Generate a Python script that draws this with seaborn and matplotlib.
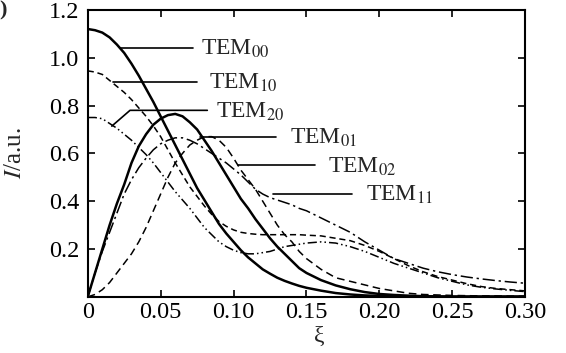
import numpy as np
import pandas as pd
import matplotlib
matplotlib.use("Agg")
import matplotlib.pyplot as plt
import seaborn as sns

sns.set_theme(style="ticks")
plt.rcParams['font.family'] = ['Liberation Serif', 'DejaVu Serif']
plt.rcParams['mathtext.fontset'] = 'stix'

# values
xi = [0, .005, .01, .015, .02, .025, .03, .035, .04, .045, .05, .055, .06, .065,
      .07, .075, .08, .085, .09, .095, .10, .105, .11, .115, .12, .125, .13, .135,
      .14, .145, .15, .16, .17, .18, .19, .20, .21, .22, .23, .24, .25, .26, .27,
      .28, .29, .30]

tem00 = [1.12, 1.115, 1.105, 1.085, 1.055, 1.02, 0.975, 0.925, 0.87, 0.815, 0.755,
         0.695, 0.635, 0.575, 0.515, 0.455, 0.405, 0.355, 0.305, 0.265, 0.23, 0.195,
         0.165, 0.14, 0.115, 0.097, 0.08, 0.067, 0.056, 0.046, 0.038, 0.026, 0.016,
         0.01, 0.006, 0.004, 0.003, 0.002, 0.002, 0.001, 0.001, 0.001, 0.001, 0.001,
         0.001, 0.001]

tem10 = [0.945, 0.94, 0.93, 0.905, 0.88, 0.855, 0.825, 0.79, 0.755, 0.715, 0.67,
         0.615, 0.56, 0.51, 0.46, 0.42, 0.38, 0.345, 0.315, 0.295, 0.28, 0.27,
         0.265, 0.262, 0.26, 0.26, 0.26, 0.26, 0.26, 0.26, 0.258, 0.255, 0.245,
         0.235, 0.215, 0.19, 0.16, 0.13, 0.105, 0.085, 0.07, 0.055, 0.043, 0.035,
         0.03, 0.025]

tem20 = [0.75, 0.75, 0.745, 0.725, 0.705, 0.68, 0.655, 0.625, 0.595, 0.56, 0.52,
         0.48, 0.44, 0.405, 0.37, 0.33, 0.29, 0.26, 0.23, 0.21, 0.195, 0.185, 0.18,
         0.18, 0.185, 0.19, 0.2, 0.21, 0.215, 0.22, 0.225, 0.23, 0.225, 0.21, 0.19,
         0.165, 0.14, 0.12, 0.1, 0.08, 0.065, 0.05, 0.04, 0.033, 0.027, 0.022]

tem01 = [0, 0.1, 0.2, 0.3, 0.39, 0.47, 0.56, 0.63, 0.68, 0.72, 0.745, 0.76, 0.765,
         0.755, 0.73, 0.7, 0.655, 0.61, 0.56, 0.51, 0.46, 0.41, 0.37, 0.325, 0.285,
         0.245, 0.21, 0.18, 0.15, 0.12, 0.1, 0.07, 0.048, 0.032, 0.02, 0.012, 0.008,
         0.005, 0.003, 0.002, 0.001, 0.001, 0.001, 0.001, 0.001, 0.001]

tem02 = [0, 0.01, 0.03, 0.06, 0.1, 0.14, 0.18, 0.23, 0.29, 0.36, 0.43, 0.5, 0.56,
         0.6, 0.635, 0.655, 0.67, 0.67, 0.655, 0.625, 0.58, 0.53, 0.49, 0.45, 0.4,
         0.35, 0.3, 0.26, 0.23, 0.19, 0.16, 0.115, 0.08, 0.065, 0.05, 0.035, 0.025,
         0.015, 0.01, 0.008, 0.006, 0.005, 0.004, 0.004, 0.003, 0.003]

tem11 = [0, 0.1, 0.19, 0.27, 0.35, 0.43, 0.49, 0.54, 0.58, 0.615, 0.64, 0.655,
         0.665, 0.665, 0.655, 0.64, 0.62, 0.6, 0.58, 0.56, 0.535, 0.51, 0.48, 0.45,
         0.43, 0.415, 0.405, 0.395, 0.385, 0.37, 0.36, 0.33, 0.3, 0.27, 0.23, 0.195,
         0.16, 0.14, 0.12, 0.105, 0.093, 0.083, 0.075, 0.068, 0.062, 0.057]

df = pd.DataFrame({'xi': xi, 'TEM00': tem00, 'TEM10': tem10, 'TEM20': tem20,
                   'TEM01': tem01, 'TEM02': tem02, 'TEM11': tem11})

styles = {
    'TEM00': dict(lw=1.8, ls='-'),
    'TEM01': dict(lw=1.8, ls='-'),
    'TEM10': dict(lw=1.1, ls=(0, (4, 2.5))),
    'TEM02': dict(lw=1.1, ls=(0, (5, 3))),
    'TEM20': dict(lw=1.1, ls=(0, (6, 2, 1, 2, 1, 2))),
    'TEM11': dict(lw=1.1, ls=(0, (8, 2.5, 1.5, 2.5))),
}

fig = plt.figure(figsize=(5.66, 3.53), dpi=100)
ax = fig.add_axes([0.155, 0.159, 0.773, 0.813])

for name, st in styles.items():
    sns.lineplot(data=df, x='xi', y=name, ax=ax, color='black',
                 linewidth=st['lw'], linestyle=st['ls'])

# leader lines and labels
leaders = [
    ('00', [0.022, 0.072], [1.04, 1.04], 0.078, 1.035),
    ('10', [0.017, 0.075], [0.90, 0.90], 0.083, 0.895),
    ('20', [0.0165, 0.029, 0.082], [0.714, 0.78, 0.78], 0.088, 0.775),
    ('01', [0.077, 0.129], [0.67, 0.67], 0.139, 0.665),
    ('02', [0.103, 0.156], [0.55, 0.55], 0.165, 0.545),
    ('11', [0.127, 0.181], [0.43, 0.43], 0.191, 0.425),
]
for sub, lx, ly, tx, ty in leaders:
    ax.plot(lx, ly, color='black', lw=1.2)
    ax.text(tx, ty, 'TEM$_{' + sub + '}$', fontsize=17, va='center', ha='left')

ax.set_xlim(0, 0.30)
ax.set_ylim(0, 1.2)
ax.set_xticks([0, 0.05, 0.10, 0.15, 0.20, 0.25, 0.30])
ax.set_xticklabels(['0', '0.05', '0.10', '0.15', '0.20', '0.25', '0.30'])
ax.set_yticks([0.2, 0.4, 0.6, 0.8, 1.0, 1.2])
ax.set_yticklabels(['0.2', '0.4', '0.6', '0.8', '1.0', '1.2'])
ax.tick_params(direction='in', top=True, right=True, length=5, width=1.2,
               labelsize=17.5, colors='black')
ax.tick_params(axis='x', pad=4)
ax.tick_params(axis='y', pad=6)
for s in ax.spines.values():
    s.set_linewidth(1.5)
    s.set_color('black')

ax.set_xlabel('ξ', fontsize=17)
ax.xaxis.set_label_coords(0.53, -0.1)
ax.set_ylabel('$I$/a.u.', fontsize=18)
ax.yaxis.set_label_coords(-0.14, 0.5)

fig.text(-0.002, 1.0, ')', fontsize=16, weight='bold', ha='left', va='top')

fig.savefig('out.png', dpi=100)
